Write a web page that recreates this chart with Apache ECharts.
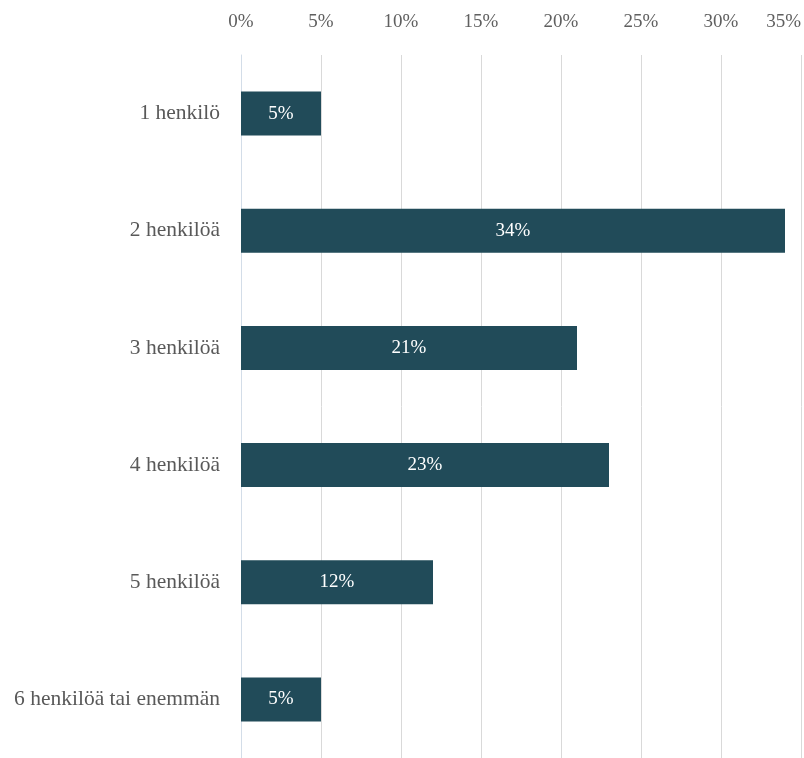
<!DOCTYPE html>
<html><head><meta charset="utf-8">
<script src="https://cdn.jsdelivr.net/npm/echarts@6/dist/echarts.min.js"></script>
<style>html,body{margin:0;padding:0;background:#fff}#c{width:804px;height:758px}</style>
</head><body><div id="c"></div>
<script>
const categories = ["1 henkilö", "2 henkilöä", "3 henkilöä", "4 henkilöä", "5 henkilöä", "6 henkilöä tai enemmän"];
const values = [5, 34, 21, 23, 12, 5];
const tickLabels = ["0%", "5%", "10%", "15%", "20%", "25%", "30%", "35%"];

const chart = echarts.init(document.getElementById('c'));
chart.setOption({
  animation: false,
  grid: { left: 241, right: 1, top: 55, height: 708, containLabel: false },
  xAxis: {
    type: 'value', position: 'top', min: 0, max: 35, interval: 5,
    axisLine: { show: false }, axisTick: { show: false },
    axisLabel: {
      margin: 23, alignMaxLabel: 'right',
      formatter: (v) => tickLabels[Math.round(v / 5)],
      color: '#5f5f5f', fontFamily: 'Liberation Serif', fontSize: 19
    },
    splitLine: { show: true, lineStyle: { color: '#d9d9d9', width: 1 } }
  },
  yAxis: {
    type: 'category', inverse: true, data: categories,
    axisLine: { show: true, lineStyle: { color: '#d3dde8', width: 1 } },
    axisTick: { show: false },
    axisLabel: { margin: 21, color: '#595959', fontFamily: 'Liberation Serif', fontSize: 21.5 }
  },
  series: [{
    type: 'bar', data: values, barWidth: 44,
    itemStyle: { color: '#214b59' },
    label: {
      show: true, position: 'inside', formatter: (p) => p.value + '%',
      color: '#ffffff', fontFamily: 'Liberation Serif', fontSize: 19
    }
  }]
});
</script></body></html>
